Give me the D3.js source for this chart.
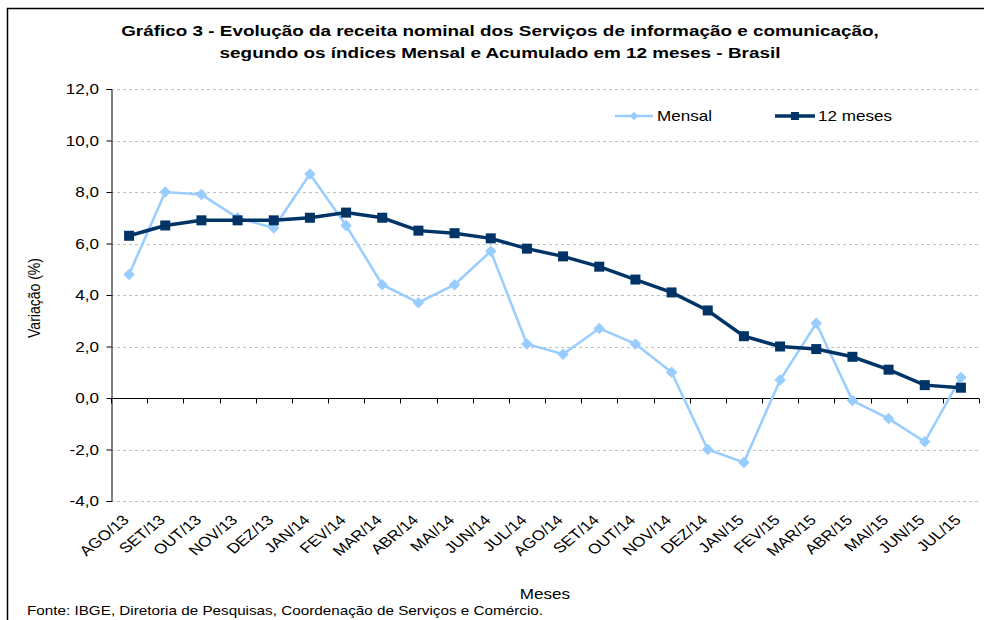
<!DOCTYPE html>
<html>
<head>
<meta charset="utf-8">
<script src="https://d3js.org/d3.v7.min.js"></script>
<style>
  body { margin: 0; background: #fff; }
  svg text { font-family: "Liberation Sans", Arial, sans-serif; fill: #000; }
</style>
</head>
<body>
<svg id="chart" width="984" height="620"></svg>
<script>
// Data
var meses = ["AGO/13","SET/13","OUT/13","NOV/13","DEZ/13","JAN/14","FEV/14","MAR/14","ABR/14","MAI/14","JUN/14","JUL/14",
             "AGO/14","SET/14","OUT/14","NOV/14","DEZ/14","JAN/15","FEV/15","MAR/15","ABR/15","MAI/15","JUN/15","JUL/15"];
var mensal = [4.8, 8.0, 7.9, 7.0, 6.6, 8.7, 6.7, 4.4, 3.7, 4.4, 5.7, 2.1,
              1.7, 2.7, 2.1, 1.0, -2.0, -2.5, 0.7, 2.9, -0.1, -0.8, -1.7, 0.8];
var dozeMeses = [6.3, 6.7, 6.9, 6.9, 6.9, 7.0, 7.2, 7.0, 6.5, 6.4, 6.2, 5.8,
                 5.5, 5.1, 4.6, 4.1, 3.4, 2.4, 2.0, 1.9, 1.6, 1.1, 0.5, 0.4];
var yTicks = [-4, -2, 0, 2, 4, 6, 8, 10, 12];

var svg = d3.select("#chart");
var plotL = 111, plotR = 979, plotT = 89, plotB = 501;
var sx = 1.22; // the picture is stretched sideways, so text is too

var x = d3.scaleBand().domain(meses).range([plotL, plotR]);
var y = d3.scaleLinear().domain([-4, 12]).range([plotB, plotT]);
var cx = function(d, i) { return x(meses[i]) + x.bandwidth() / 2; };
var fmt = function(v) { return d3.format(".1f")(v).replace(".", ",").replace("\u2212", "-"); };

// text helper, stretched horizontally like the reference
function label(px, py, str, size, anchor, extra) {
  return svg.append("text")
    .attr("transform", "translate(" + px + "," + py + ") scale(" + sx + ",1)" + (extra || ""))
    .attr("text-anchor", anchor || "start")
    .attr("font-size", size)
    .text(str);
}

// outer frame
svg.append("rect").attr("x", 7.5).attr("y", 8.5).attr("width", 1000).attr("height", 700)
  .attr("fill", "none").attr("stroke", "#000").attr("stroke-width", 1.5);

// title
label(500, 36, "Gráfico 3 - Evolução da receita nominal dos Serviços de informação e comunicação,", 15.5, "middle").attr("font-weight", "bold");
label(500, 58, "segundo os índices Mensal e Acumulado em 12 meses - Brasil", 15.5, "middle").attr("font-weight", "bold");

// gridlines
svg.append("g").selectAll("line").data(yTicks.filter(function(d) { return d !== 0; })).enter().append("line")
  .attr("x1", plotL).attr("x2", plotR)
  .attr("y1", function(d) { return Math.round(y(d)) + 0.5; }).attr("y2", function(d) { return Math.round(y(d)) + 0.5; })
  .attr("stroke", "#c0c0c0").attr("stroke-dasharray", "3,3");

// y axis
var yAxis = svg.append("g").attr("transform", "translate(" + (plotL + 0.5) + ",0)")
  .call(d3.axisLeft(y).tickValues(yTicks).tickFormat("").tickSize(5));
yAxis.selectAll("path, line").attr("stroke", "#000");
yTicks.forEach(function(t) { label(plotL - 12, y(t) + 5, fmt(t), 14, "end"); });

// x axis at zero
var y0 = Math.round(y(0)) + 0.5;
svg.append("line").attr("x1", plotL).attr("x2", plotR).attr("y1", y0).attr("y2", y0).attr("stroke", "#000");
svg.append("g").selectAll("line").data(d3.range(meses.length + 1)).enter().append("line")
  .attr("x1", function(i) { return Math.round(plotL + i * x.step()) + 0.5; })
  .attr("x2", function(i) { return Math.round(plotL + i * x.step()) + 0.5; })
  .attr("y1", y0).attr("y2", y0 + 5).attr("stroke", "#000");

// x labels
meses.forEach(function(m, i) { label(cx(m, i) + 1, plotB + 20, m, 14, "end", " rotate(-45)"); });

// axis titles
label(40, 298, "Variação (%)", 14, "middle", " rotate(-90)");
label(545, 599, "Meses", 14, "middle");
label(27, 615, "Fonte: IBGE, Diretoria de Pesquisas, Coordenação de Serviços e Comércio.", 12.5, "start");

// series
var lineGen = d3.line().x(cx).y(function(d) { return y(d); });
var cMensal = "#99ccff", cDoze = "#003366";

svg.append("path").datum(mensal).attr("d", lineGen).attr("fill", "none").attr("stroke", cMensal).attr("stroke-width", 2.5);
svg.append("g").selectAll("path").data(mensal).enter().append("path")
  .attr("d", d3.symbol().type(d3.symbolDiamond2).size(85))
  .attr("transform", function(d, i) { return "translate(" + cx(d, i) + "," + y(d) + ")"; })
  .attr("fill", cMensal);

svg.append("path").datum(dozeMeses).attr("d", lineGen).attr("fill", "none").attr("stroke", cDoze).attr("stroke-width", 3.5);
svg.append("g").selectAll("rect").data(dozeMeses).enter().append("rect")
  .attr("x", function(d, i) { return cx(d, i) - 5; }).attr("y", function(d) { return y(d) - 5; })
  .attr("width", 10).attr("height", 10).attr("fill", cDoze);

// legend
var legend = svg.append("g");
legend.append("line").attr("x1", 615).attr("x2", 653).attr("y1", 116).attr("y2", 116).attr("stroke", cMensal).attr("stroke-width", 2.5);
legend.append("path").attr("d", d3.symbol().type(d3.symbolDiamond2).size(45)).attr("transform", "translate(634,116)").attr("fill", cMensal);
label(657, 121, "Mensal", 14, "start");
legend.append("line").attr("x1", 775).attr("x2", 815).attr("y1", 116).attr("y2", 116).attr("stroke", cDoze).attr("stroke-width", 3.5);
legend.append("rect").attr("x", 791).attr("y", 112).attr("width", 8).attr("height", 8).attr("fill", cDoze);
label(818, 121, "12 meses", 14, "start");
</script>
</body>
</html>
